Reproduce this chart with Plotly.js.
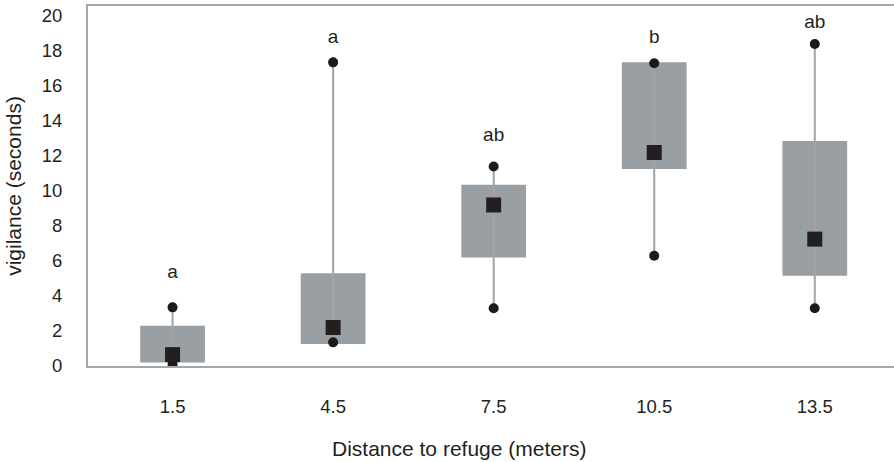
<!DOCTYPE html>
<html>
<head>
<meta charset="utf-8">
<script src="https://cdn.plot.ly/plotly-3.0.1.min.js"></script>
<style>html,body{margin:0;padding:0;background:#fff;}#chart{width:894px;height:462px;}</style>
</head>
<body>
<div id="chart"></div>
<script>
// ---- data ----
const categories = [1.5, 4.5, 7.5, 10.5, 13.5];
const tickLabels = ['1.5', '4.5', '7.5', '10.5', '13.5'];
const whiskerMin = [0.1, 1.35, 3.3, 6.3, 3.3];
const whiskerMax = [3.35, 17.35, 11.4, 17.3, 18.4];
const boxLow = [0.2, 1.25, 6.2, 11.25, 5.15];
const boxHigh = [2.3, 5.3, 10.35, 17.35, 12.85];
const centerVals = [0.65, 2.2, 9.2, 12.2, 7.25];
const groupLetters = ['a', 'a', 'ab', 'b', 'ab'];
const letterY = [5.3, 18.7, 13.1, 18.75, 19.6];
const yTicks = [0, 2, 4, 6, 8, 10, 12, 14, 16, 18, 20];

// ---- build traces ----
const textColor = '#231f20';
const font = 'Arial, "Liberation Sans", sans-serif';

const wx = [], wy = [];
categories.forEach((c, i) => { wx.push(c, c, null); wy.push(whiskerMin[i], whiskerMax[i], null); });

const whiskers = {
  type: 'scatter', mode: 'lines', x: wx, y: wy,
  line: {color: '#a3a4a6', width: 2}, hoverinfo: 'skip', showlegend: false
};
const boxes = {
  type: 'bar', x: categories, base: boxLow,
  y: boxHigh.map((h, i) => h - boxLow[i]),
  width: 1.21, marker: {color: '#9a9fa4', line: {width: 0}}, showlegend: false
};
const ends = {
  type: 'scatter', mode: 'markers',
  x: categories.concat(categories), y: whiskerMin.concat(whiskerMax),
  marker: {color: '#1c1a1b', size: 10, symbol: 'circle'}, showlegend: false
};
const centers = {
  type: 'scatter', mode: 'markers', x: categories, y: centerVals,
  marker: {color: textColor, size: 15, symbol: 'square'}, showlegend: false
};
const letters = {
  type: 'scatter', mode: 'text', x: categories, y: letterY, text: groupLetters,
  textposition: 'middle center', textfont: {family: font, size: 19, color: textColor},
  hoverinfo: 'skip', showlegend: false, cliponaxis: false
};

const layout = {
  width: 894, height: 462,
  margin: {l: 88, r: 0, t: 6, b: 96},
  paper_bgcolor: '#ffffff', plot_bgcolor: '#ffffff',
  font: {family: font, size: 18, color: textColor},
  showlegend: false,
  xaxis: {
    range: [-0.08, 14.98], tickvals: categories, ticktext: tickLabels,
    showline: true, linecolor: '#a6a6a6', linewidth: 2, mirror: true,
    showgrid: false, zeroline: false, ticks: '', ticklabelstandoff: 23,
    tickfont: {family: font, size: 18.5, color: textColor}
  },
  yaxis: {
    range: [0, 20.57], tickvals: yTicks,
    showline: true, linecolor: '#a6a6a6', linewidth: 2,
    showgrid: false, zeroline: false, ticks: '', ticklabelstandoff: 20,
    tickfont: {family: font, size: 18.5, color: textColor},
    title: {text: 'vigilance (seconds)', font: {family: font, size: 21, color: textColor}, standoff: 14}
  },
  annotations: [{
    text: 'Distance to refuge (meters)', xref: 'paper', yref: 'paper',
    x: 0.46, y: 0, yshift: -82, xanchor: 'center', yanchor: 'middle', showarrow: false,
    font: {family: font, size: 21, color: textColor}
  }]
};

Plotly.newPlot('chart', [whiskers, boxes, ends, centers, letters], layout, {displayModeBar: false, staticPlot: true});
</script>
</body>
</html>
